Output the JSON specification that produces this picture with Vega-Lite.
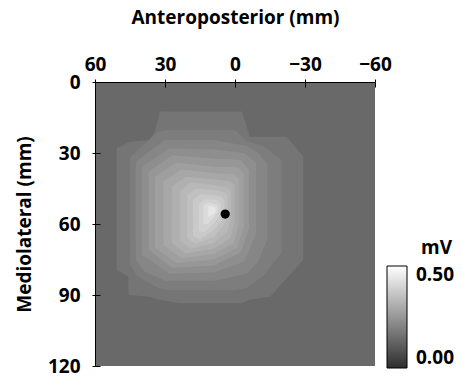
{
  "$schema": "https://vega.github.io/schema/vega-lite/v6.json",
  "width": 280,
  "height": 284,
  "autosize": {"type": "none"},
  "padding": {"left": 95, "top": 82, "right": 88, "bottom": 13},
  "config": {"view": {"stroke": null}, "font": "Open Sans"},
  "layer": [
    {
      "data": {"values": [
        {"ap": 60, "ml": 0, "ml2": 120, "mV": 0.14},
        {"ap": -60, "ml": 0, "ml2": 120, "mV": 0.14},
        {"ap": 50.7, "ml": 28, "ml2": 79.4, "mV": 0.17},
        {"ap": 48.6, "ml": 27, "ml2": 80.5, "mV": 0.17},
        {"ap": 45.8, "ml": 25.6, "ml2": 82.3, "mV": 0.17},
        {"ap": 45.6, "ml": 25.4, "ml2": 90, "mV": 0.17},
        {"ap": 36.4, "ml": 24.5, "ml2": 90.7, "mV": 0.17},
        {"ap": 34.5, "ml": 21, "ml2": 91.5, "mV": 0.17},
        {"ap": 32.1, "ml": 12.5, "ml2": 92, "mV": 0.17},
        {"ap": 23.6, "ml": 12.5, "ml2": 93.5, "mV": 0.17},
        {"ap": -2.9, "ml": 12.5, "ml2": 93.5, "mV": 0.17},
        {"ap": -6.4, "ml": 23.1, "ml2": 92, "mV": 0.17},
        {"ap": -15, "ml": 23.1, "ml2": 90.7, "mV": 0.17},
        {"ap": -22.1, "ml": 23.1, "ml2": 83, "mV": 0.17},
        {"ap": -29.3, "ml": 31.5, "ml2": 75.2, "mV": 0.17},
        {"ap": 45, "ml": 32, "ml2": 77, "mV": 0.19},
        {"ap": 42, "ml": 29, "ml2": 82, "mV": 0.19},
        {"ap": 33, "ml": 21, "ml2": 87, "mV": 0.19},
        {"ap": 28, "ml": 20.3, "ml2": 88, "mV": 0.19},
        {"ap": 0, "ml": 20.3, "ml2": 88, "mV": 0.19},
        {"ap": -5, "ml": 25, "ml2": 87, "mV": 0.19},
        {"ap": -12, "ml": 27, "ml2": 82, "mV": 0.19},
        {"ap": -20, "ml": 33, "ml2": 72, "mV": 0.19},
        {"ap": 42.5, "ml": 34, "ml2": 75, "mV": 0.21},
        {"ap": 39, "ml": 31, "ml2": 80, "mV": 0.21},
        {"ap": 30, "ml": 24.5, "ml2": 84, "mV": 0.21},
        {"ap": 9, "ml": 24.5, "ml2": 84, "mV": 0.21},
        {"ap": -5, "ml": 27, "ml2": 81, "mV": 0.21},
        {"ap": -10, "ml": 30, "ml2": 76, "mV": 0.21},
        {"ap": -14, "ml": 35, "ml2": 66, "mV": 0.21},
        {"ap": 40, "ml": 36, "ml2": 73, "mV": 0.23},
        {"ap": 28, "ml": 28, "ml2": 81, "mV": 0.23},
        {"ap": 9, "ml": 28.5, "ml2": 80.5, "mV": 0.23},
        {"ap": -4, "ml": 30, "ml2": 76, "mV": 0.23},
        {"ap": -9, "ml": 34, "ml2": 64, "mV": 0.23},
        {"ap": 37, "ml": 38, "ml2": 71, "mV": 0.25},
        {"ap": 27, "ml": 31, "ml2": 78.5, "mV": 0.25},
        {"ap": 9, "ml": 32.3, "ml2": 77.5, "mV": 0.25},
        {"ap": -2.5, "ml": 33, "ml2": 72, "mV": 0.25},
        {"ap": -6, "ml": 37, "ml2": 62, "mV": 0.25},
        {"ap": 34.3, "ml": 40, "ml2": 70, "mV": 0.27},
        {"ap": 25, "ml": 34, "ml2": 76.5, "mV": 0.27},
        {"ap": 9, "ml": 35.8, "ml2": 75, "mV": 0.27},
        {"ap": -1, "ml": 36, "ml2": 70, "mV": 0.27},
        {"ap": -3.8, "ml": 39, "ml2": 61, "mV": 0.27},
        {"ap": 30.7, "ml": 42, "ml2": 69, "mV": 0.29},
        {"ap": 23, "ml": 37, "ml2": 74.5, "mV": 0.29},
        {"ap": 9, "ml": 38.6, "ml2": 72.7, "mV": 0.29},
        {"ap": 0.5, "ml": 39, "ml2": 68, "mV": 0.29},
        {"ap": -1.8, "ml": 41, "ml2": 60, "mV": 0.29},
        {"ap": 27.1, "ml": 44, "ml2": 68, "mV": 0.31},
        {"ap": 21, "ml": 40, "ml2": 72.5, "mV": 0.31},
        {"ap": 9, "ml": 41.1, "ml2": 70.3, "mV": 0.31},
        {"ap": 2, "ml": 42, "ml2": 66, "mV": 0.31},
        {"ap": 0.2, "ml": 43.5, "ml2": 59, "mV": 0.31},
        {"ap": 23.6, "ml": 46, "ml2": 67, "mV": 0.33},
        {"ap": 19, "ml": 42.5, "ml2": 70.5, "mV": 0.33},
        {"ap": 9, "ml": 43.5, "ml2": 67.9, "mV": 0.33},
        {"ap": 3.5, "ml": 44.5, "ml2": 63.5, "mV": 0.33},
        {"ap": 1.8, "ml": 46, "ml2": 58.5, "mV": 0.33},
        {"ap": 20.5, "ml": 48, "ml2": 66, "mV": 0.35},
        {"ap": 17, "ml": 45, "ml2": 68.5, "mV": 0.35},
        {"ap": 9, "ml": 45.6, "ml2": 65.4, "mV": 0.35},
        {"ap": 5, "ml": 46.5, "ml2": 61, "mV": 0.35},
        {"ap": 3.2, "ml": 48, "ml2": 57.5, "mV": 0.35},
        {"ap": 18, "ml": 50, "ml2": 65, "mV": 0.37},
        {"ap": 15, "ml": 47.5, "ml2": 66.5, "mV": 0.37},
        {"ap": 9, "ml": 47.7, "ml2": 62.5, "mV": 0.37},
        {"ap": 6, "ml": 48.5, "ml2": 59, "mV": 0.37},
        {"ap": 4.6, "ml": 50, "ml2": 56.5, "mV": 0.37},
        {"ap": 15.5, "ml": 51.5, "ml2": 63, "mV": 0.39},
        {"ap": 13, "ml": 49.5, "ml2": 63.5, "mV": 0.39},
        {"ap": 9, "ml": 49.6, "ml2": 59.7, "mV": 0.39},
        {"ap": 7, "ml": 50.3, "ml2": 57, "mV": 0.39},
        {"ap": 6, "ml": 51.5, "ml2": 55.5, "mV": 0.39},
        {"ap": 13.5, "ml": 52, "ml2": 60, "mV": 0.415},
        {"ap": 11.5, "ml": 51, "ml2": 60, "mV": 0.415},
        {"ap": 9, "ml": 51.3, "ml2": 57, "mV": 0.415},
        {"ap": 8, "ml": 51.8, "ml2": 55.5, "mV": 0.415},
        {"ap": 7.2, "ml": 52.5, "ml2": 54.5, "mV": 0.415},
        {"ap": 11.5, "ml": 52.5, "ml2": 57, "mV": 0.44},
        {"ap": 9.5, "ml": 52.3, "ml2": 56, "mV": 0.44},
        {"ap": 8.3, "ml": 53, "ml2": 55, "mV": 0.44}
      ]},
      "mark": {"type": "area", "opacity": 1, "interpolate": "linear"},
      "encoding": {
        "x": {
          "field": "ap", "type": "quantitative",
          "scale": {"domain": [60, -60], "nice": false, "zero": false},
          "axis": {
            "orient": "top", "title": "Anteroposterior (mm)", "values": [60, 30, 0, -30, -60],
            "titleFontSize": 19, "titleFontWeight": "bold", "titleColor": "black",
            "labelFontSize": 19, "labelFontWeight": "bold", "labelColor": "black",
            "labelFlush": false, "labelOverlap": false,
            "domainColor": "black", "tickColor": "black", "tickSize": 3,
            "labelPadding": 5, "titlePadding": 28, "zindex": 1,
            "grid": true, "gridColor": "black", "gridOpacity": 1, "gridWidth": 1, "gridDash": [5, 2000]
          }
        },
        "y": {
          "field": "ml", "type": "quantitative", "stack": null,
          "scale": {"domain": [0, 120], "reverse": true, "nice": false, "zero": false},
          "axis": {
            "orient": "left", "title": "Mediolateral (mm)", "values": [0, 30, 60, 90, 120],
            "titleFontSize": 19, "titleFontWeight": "bold", "titleColor": "black",
            "labelFontSize": 19, "labelFontWeight": "bold", "labelColor": "black",
            "labelFlush": false, "labelOverlap": false,
            "domainColor": "black", "tickColor": "black", "tickSize": 3,
            "labelPadding": 12, "titlePadding": 13, "zindex": 1,
            "grid": true, "gridColor": "black", "gridOpacity": 1, "gridWidth": 1, "gridDash": [5, 2000]
          }
        },
        "y2": {"field": "ml2"},
        "color": {
          "field": "mV", "type": "quantitative",
          "scale": {"domain": [0, 0.5], "range": ["#2e2e2e", "#ffffff"], "interpolate": "rgb"},
          "legend": {
            "orient": "none", "legendX": 292, "legendY": 157, "direction": "vertical",
            "gradientLength": 102, "gradientThickness": 20, "values": [0, 0.5], "format": ".2f",
            "title": "mV", "titleFontSize": 19, "titleFontWeight": "bold", "titleColor": "black",
            "titleAnchor": "middle", "titleAlign": "left", "titlePadding": 8,
            "labelFontSize": 19, "labelFontWeight": "bold", "labelColor": "black", "labelOffset": 9,
            "gradientStrokeColor": "black", "gradientStrokeWidth": 1, "padding": 0, "labelOverlap": false
          }
        }
      }
    },
    {
      "data": {"values": [{"ap": 4.2, "ml": 55.8}]},
      "mark": {"type": "point", "filled": true, "color": "black", "size": 85, "opacity": 1},
      "encoding": {
        "x": {"field": "ap", "type": "quantitative"},
        "y": {"field": "ml", "type": "quantitative"}
      }
    }
  ]
}
